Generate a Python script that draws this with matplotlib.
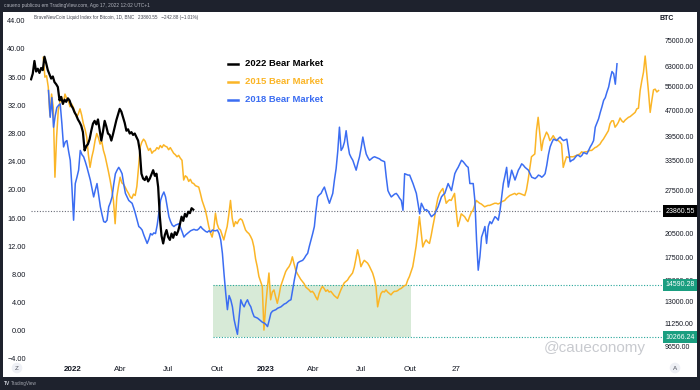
import numpy as np
import pandas as pd
import matplotlib
matplotlib.use('Agg')
import matplotlib.pyplot as plt
import matplotlib.dates as mdates
import matplotlib.transforms as mtransforms
from matplotlib.patches import Rectangle
from matplotlib.lines import Line2D
from matplotlib.ticker import FixedLocator, NullLocator, FuncFormatter

plt.rcParams['font.family'] = ['Liberation Sans', 'DejaVu Sans']

# ---------------- data ----------------
series_names = ['2022 Bear Market', '2015 Bear Market', '2018 Bear Market']
series_colors = ['#000000', '#FBB526', '#3B6DF2']
sample_step = '76h'

start_2022 = '2021-10-14'
values_2022 = [
    35.7, 36.5, 38.3, 36.8, 37.2, 36.6, 37.3, 37.0, 38.9, 38.0,
    37.0, 36.4, 35.8, 36.1, 35.3, 35.0, 34.6, 32.7, 33.2, 32.2,
    32.8, 32.5, 33.0, 32.7, 32.0, 31.6, 31.0, 30.6, 30.0, 29.6,
    29.1, 28.2, 25.6, 26.2, 26.5, 27.2, 28.4, 29.4, 29.8, 29.3,
    30.0, 28.5, 27.0, 28.3, 29.8, 29.0, 28.0, 27.8, 27.0, 27.9,
    28.9, 29.9, 30.7, 31.5, 31.1, 30.3, 29.5, 28.4, 28.6, 28.0,
    28.2, 27.8, 28.0, 27.5, 27.0, 25.6, 22.3, 21.6, 21.4, 21.9,
    21.2, 21.6, 22.2, 22.8, 22.0, 22.3, 20.4, 16.2, 13.5, 12.4,
    13.6, 14.3, 13.3, 12.9, 13.8, 13.2, 14.0, 13.6, 14.2, 15.1,
    16.2, 15.6, 16.6, 16.2, 16.9, 16.7, 17.4, 17.2,
]

start_2015 = '2021-11-06'
values_2015 = [
    38.8, 36.0, 36.2,
    34.6, 30.5, 33.6, 31.7, 21.8, 27.5, 31.3, 32.5, 33.2, 32.2,
    33.6, 33.0, 32.7, 31.8, 32.2, 31.7, 31.0, 30.3, 30.8, 31.5,
    30.6, 29.4, 28.6, 27.5, 25.0, 23.2, 24.6, 25.6, 27.0, 28.0,
    27.4, 26.5, 26.9, 25.6, 24.8, 23.7, 22.6, 21.4, 20.0, 18.5,
    15.2, 19.0, 20.5, 21.8, 21.0, 20.8, 20.4, 19.9, 19.5, 19.0,
    18.8, 19.4, 19.2, 20.5, 23.2, 26.1, 26.8, 27.2, 26.9, 26.2,
    25.6, 25.9, 25.2, 25.5, 25.6, 26.0, 25.8, 26.3, 26.0, 26.4,
    26.2, 26.1, 25.7, 26.0, 25.6, 25.2, 25.0, 24.7, 24.9, 24.5,
    24.2, 21.4, 22.0, 21.8, 21.2, 21.5, 21.0, 20.9, 20.6, 20.5,
    20.4, 19.5, 18.5, 17.8, 17.1, 16.0, 14.8, 13.9, 13.3, 14.5,
    16.7, 15.2, 14.5, 14.3, 13.6, 12.9, 13.9, 14.8, 16.5, 18.5,
    16.0, 14.8, 15.5, 15.2, 15.7, 15.9, 15.7, 15.0, 14.3, 14.0,
    13.8, 13.4, 12.9, 11.9, 10.2, 9.1, 7.7, 7.0, 6.3, 0.1,
    3.4, 6.0, 8.2, 4.4, 5.5, 5.8, 4.8, 3.9, 5.0, 6.3,
    7.0, 7.7, 8.4, 8.8, 9.1, 9.6, 10.5, 9.5, 8.6, 8.1,
    7.7, 7.3, 7.0, 6.7, 6.2, 6.0, 5.8, 5.5, 5.6, 5.3,
    4.8, 4.4, 5.3, 5.9, 6.3, 6.0, 5.6, 5.8, 5.5, 5.6,
    5.3, 5.0, 4.8, 4.6, 5.2, 5.8, 6.3, 6.8, 7.0, 7.2,
    7.6, 7.9, 8.2, 9.0, 10.2, 11.5, 10.5, 9.1, 9.6, 10.0,
    9.8, 9.6, 9.2, 8.7, 8.2, 7.4, 6.3, 3.4, 4.5, 5.3,
    5.6, 5.5, 5.8, 5.5, 5.3, 5.1, 5.4, 5.6, 5.6, 5.7,
    5.9, 6.0, 6.2, 6.4, 6.5, 7.2, 7.7, 8.4, 9.1, 10.5,
    12.0, 14.0, 16.2, 14.0, 11.9, 12.5, 12.9, 12.6, 12.4, 13.5,
    14.8, 16.0, 17.6, 18.8, 19.5, 19.9, 20.2, 19.2, 18.1, 18.4,
    18.6, 18.5, 19.0, 19.5, 17.0, 14.8, 15.6, 16.6, 16.4, 16.2,
    15.8, 15.5, 16.2, 16.8, 17.1, 17.8, 18.5, 18.3, 18.1, 18.0,
    17.8, 17.6, 17.7, 17.8, 17.8, 17.9, 18.0, 18.1, 18.1, 18.0,
    18.1, 18.3, 18.4, 18.5, 18.8, 19.0, 19.2, 19.3, 19.4, 19.5,
    19.3, 19.5, 19.5, 19.4, 19.3, 19.2, 20.0, 21.4, 23.0, 24.7,
    24.9, 25.1, 28.4, 30.3, 28.0, 25.6, 27.0, 27.6, 28.2, 27.8,
    27.0, 27.3, 27.7, 27.3, 27.1, 27.0, 26.8, 26.5, 23.2, 24.0,
    24.7, 24.6, 24.7, 24.7, 24.7, 24.8, 24.9, 25.0, 25.1, 25.4,
    25.3, 25.4, 25.4, 25.5, 25.6, 25.6, 25.8, 26.0, 26.1, 26.3,
    26.5, 26.9, 27.2, 27.6, 28.0, 28.4, 29.4, 29.8, 29.8, 28.9,
    29.2, 29.6, 30.2, 29.8, 29.6, 29.9, 30.1, 30.3, 30.4, 30.6,
    30.8, 31.0, 31.5, 31.6, 34.1, 35.5, 36.7, 39.0, 36.4, 33.9,
    31.0, 32.7, 34.2, 34.3, 33.9, 34.1,
]

start_2018 = '2021-11-16'
values_2018 = [
    34.1, 30.3, 33.1, 28.9, 30.5, 31.7, 32.0, 32.2, 29.4, 26.1,
    26.8, 27.0, 25.5, 24.2, 20.4, 15.7, 20.9, 21.8, 22.8, 25.6,
    25.0, 24.7, 24.0, 23.2, 22.3, 21.4, 20.2, 19.0, 20.0, 20.9,
    19.2, 17.6, 16.5, 15.5, 15.4, 15.7, 17.6, 18.2, 19.0, 20.8,
    22.3, 22.8, 23.2, 22.8, 22.3, 20.8, 19.5, 19.0, 18.5, 18.3,
    18.1, 17.4, 16.6, 15.7, 14.8, 14.6, 14.3, 13.6, 13.0, 12.4,
    13.0, 13.8, 13.6, 13.9, 13.8, 15.0, 16.8, 18.5, 19.2, 19.7,
    19.0, 17.6, 16.2, 15.5, 15.0, 14.8, 15.0, 15.1, 15.2, 14.6,
    14.0, 13.3, 13.6, 13.8, 14.0, 14.2, 14.3, 14.4, 14.3, 14.3,
    14.5, 14.8, 14.5, 14.3, 14.1, 14.0, 14.2, 14.0, 14.3, 14.2,
    14.2, 14.3, 13.8, 12.9, 11.0, 8.0, 5.3, 3.0, 5.0, 4.4,
    3.4, 1.6, 0.5, -0.5, 2.0, 4.4, 3.8, 3.4, 4.0, 4.4,
    3.8, 3.4, 2.6, 2.0, 1.9, 1.8, 1.6, 1.4, 1.2, 1.1,
    0.9, 0.6, 1.5, 2.5, 2.8, 2.9, 3.0, 3.2, 3.3, 3.4,
    3.6, 3.8, 3.9, 4.1, 4.3, 4.4, 5.8, 7.2, 8.4, 9.6,
    9.8, 9.9, 10.0, 10.3, 10.7, 11.0, 12.0, 12.9, 13.8, 14.8,
    17.1, 19.0, 19.3, 19.5, 20.0, 20.4, 19.6, 18.8, 18.1, 18.8,
    19.5, 21.4, 23.0, 25.5, 28.9, 25.6, 26.0, 26.8, 28.4, 26.5,
    25.1, 24.6, 24.2, 23.5, 22.8, 23.8, 24.7, 26.0, 27.5, 26.2,
    25.1, 24.6, 24.2, 24.4, 24.6, 24.7, 24.6, 24.5, 24.4, 24.2,
    24.1, 24.0, 21.8, 19.9, 19.4, 19.0, 19.2, 19.4, 19.5, 19.2,
    18.8, 18.5, 17.1, 22.3, 22.2, 22.1, 22.1, 21.5, 20.9, 20.2,
    19.5, 18.0, 16.6, 18.1, 17.6, 17.1, 17.2, 17.0, 16.6, 16.2,
    16.4, 16.6, 17.1, 17.6, 18.3, 19.0, 19.3, 19.5, 20.2, 20.9,
    20.4, 19.9, 21.1, 22.3, 22.8, 23.2, 23.7, 24.2, 24.0, 23.7,
    23.4, 23.2, 20.9, 20.9, 20.9, 18.5, 12.9, 8.6, 10.5, 13.3,
    14.0, 14.8, 12.4, 14.8, 15.5, 15.2, 15.7, 16.2, 16.0, 15.7,
    17.0, 19.0, 20.9, 22.0, 23.2, 20.4, 21.6, 22.8, 22.1, 21.4,
    22.1, 22.8, 23.2, 23.7, 23.5, 23.2, 23.0, 22.8, 22.3, 21.8,
    21.7, 21.6, 21.8, 22.1, 22.0, 21.8, 22.0, 22.3, 23.5, 25.0,
    26.1, 26.7, 27.2, 27.1, 27.0, 27.3, 27.5, 27.2, 27.0, 27.1,
    27.2, 25.6, 24.0, 24.2, 24.3, 24.6, 24.9, 24.9, 24.7, 24.9,
    25.3, 25.2, 25.1, 25.6, 26.1, 26.5, 27.0, 28.9, 29.5, 30.1,
    31.0, 31.8, 32.7, 33.1, 33.9, 34.6, 35.8, 36.8, 36.5, 35.0,
    37.9,
]

left_ticks = list(range(-4, 45, 4))
price_ticks = [75000, 63000, 55000, 47000, 39500, 33500, 27500,
               20500, 17500, 15000, 13000, 11250, 9650]
last_price = 23860.55
zone_high = 14590.28
zone_low = 10266.24
zone_start = '2022-09-23'
zone_end = '2023-10-03'
x_tick_dates = ['2022-01-01', '2022-04-01', '2022-07-01', '2022-10-01',
                '2023-01-01', '2023-04-01', '2023-07-01', '2023-10-01',
                '2023-12-27']
x_tick_labels = ['2022', 'Abr', 'Jul', 'Out', '2023', 'Abr', 'Jul', 'Out', '27']

header_text = 'caueno publicou em TradingView.com, Ago 17, 2022 12:02 UTC+1'
symbol_text = ('BraveNewCoin Liquid Index for Bitcoin, 1D, BNC   23860.55   '
               '\u2212242.88 (\u22121.01%)')
watermark = '@caueconomy'

# ---------------- figure ----------------
W, H = 700, 390
fig = plt.figure(figsize=(W / 100, H / 100), dpi=100)
fig.patch.set_facecolor('white')


def fx(px):
    return px / W


def fy(py):
    return 1 - py / H


DARK = '#1e222d'
for (x0, y0, w, h) in [(0, 0, W, 12), (0, 377, W, 13), (0, 0, 3, H), (697, 0, 3, H)]:
    fig.add_artist(Rectangle((fx(x0), fy(y0 + h)), w / W, h / H,
                             transform=fig.transFigure, fc=DARK, ec='none', zorder=0))

ax = fig.add_axes([fx(30), fy(362), (662 - 30) / W, 350 / H])
ax2 = ax.twinx()
ax.set_zorder(ax2.get_zorder() + 1)
ax.patch.set_visible(False)

base = mdates.date2num(pd.Timestamp('2022-01-01'))
ax.set_xlim(base - 81.06, base + 1115.9)
ax.set_ylim(-4.43, 45.25)
ax2.set_yscale('log')
ax2.set_ylim(8682, 90940)

for s in list(ax.spines.values()) + list(ax2.spines.values()):
    s.set_visible(False)

# zone + price lines on the price (log) scale
zs = mdates.date2num(pd.Timestamp(zone_start))
ze = mdates.date2num(pd.Timestamp(zone_end))
ax2.add_patch(Rectangle((zs, zone_low), ze - zs, zone_high - zone_low,
                        fc='#d7ead7', ec='none', zorder=1))
xr = ax.get_xlim()[1]
x_first = mdates.date2num(pd.Timestamp(start_2022))
ax2.plot([x_first, xr], [last_price, last_price], color='#6a6d78',
         lw=0.8, ls=(0, (1, 1.5)), zorder=2)
for p in (zone_high, zone_low):
    ax2.plot([zs, xr], [p, p], color='#26a69a', lw=0.8, ls=(0, (1, 1.5)), zorder=2)

# series
order = [(values_2015, start_2015, series_colors[1], 1.1),
         (values_2018, start_2018, series_colors[2], 1.1),
         (values_2022, start_2022, series_colors[0], 1.6)]
for vals, start, col, lw in order:
    dates = pd.date_range(start, periods=len(vals), freq=sample_step)
    ax.plot(dates, vals, color=col, lw=lw, solid_joinstyle='round', zorder=3)

# left axis
ax.set_yticks(left_ticks)
ax.yaxis.set_major_formatter(FuncFormatter(lambda v, p: f'{v:.2f}'.replace('-', '\u2212')))
ax.tick_params(axis='y', length=0, pad=3, labelsize=5.3, labelcolor='#131722')

# right axis
ax2.yaxis.set_major_locator(FixedLocator(price_ticks))
ax2.yaxis.set_minor_locator(NullLocator())
ax2.yaxis.set_major_formatter(FuncFormatter(lambda v, p: f'{v:.2f}'))
ax2.tick_params(axis='y', which='both', length=0, pad=2, labelsize=5, labelcolor='#131722')

blend = mtransforms.blended_transform_factory(ax2.transAxes, ax2.transData)
for p, fc in [(last_price, '#000000'), (zone_high, '#1a9e80'), (zone_low, '#1a9e80')]:
    ax2.text(1.005, p, f'{p:.2f}', transform=blend, ha='left', va='center',
             fontsize=5, color='white', clip_on=False, zorder=10,
             bbox=dict(boxstyle='square,pad=0.35', fc=fc, ec='none'))

fig.text(fx(660), fy(19), 'BTC', fontsize=5, fontweight='bold', color='#131722',
         va='center', ha='left')

# x axis
ax.set_xticks([mdates.date2num(pd.Timestamp(d)) for d in x_tick_dates])
ax.set_xticklabels(x_tick_labels)
ax.tick_params(axis='x', length=0, pad=3, labelsize=5.8, labelcolor='#131722')
for lbl in ax.get_xticklabels():
    if lbl.get_text() in ('2022', '2023'):
        lbl.set_fontweight('bold')

# legend
for i, yy in zip([0, 1, 2], [64, 82, 100]):
    fig.add_artist(Line2D([fx(228), fx(238)], [fy(yy), fy(yy)], lw=1.8,
                          color=series_colors[i], transform=fig.transFigure))
    fig.text(fx(245), fy(yy), series_names[i], fontsize=6.8, fontweight='bold',
             color=series_colors[i], va='center', ha='left')

# texts
fig.text(fx(4), fy(6), header_text, fontsize=3.5, color='#b2b5be', va='center', ha='left', zorder=5)
fig.text(fx(34), fy(18), symbol_text, fontsize=3.3, color='#434651', va='center', ha='left')
fig.text(fx(595), fy(348), watermark, fontsize=11, color='#c8cacf', va='center', ha='center')
fig.text(fx(4), fy(383.5), 'TV', fontsize=3.5, fontweight='bold', color='#d1d4dc', va='center', ha='left', zorder=5)
fig.text(fx(11), fy(383.5), 'TradingView', fontsize=3.3, color='#a3a6af', va='center', ha='left', zorder=5)

for t, xx in [('Z', 17), ('A', 675)]:
    fig.text(fx(xx), fy(368), t, fontsize=4.5, color='#50535e', ha='center', va='center',
             bbox=dict(boxstyle='circle,pad=0.45', fc='#eef0f5', ec='none'))

fig.savefig('out.png', dpi=100, facecolor='white')
